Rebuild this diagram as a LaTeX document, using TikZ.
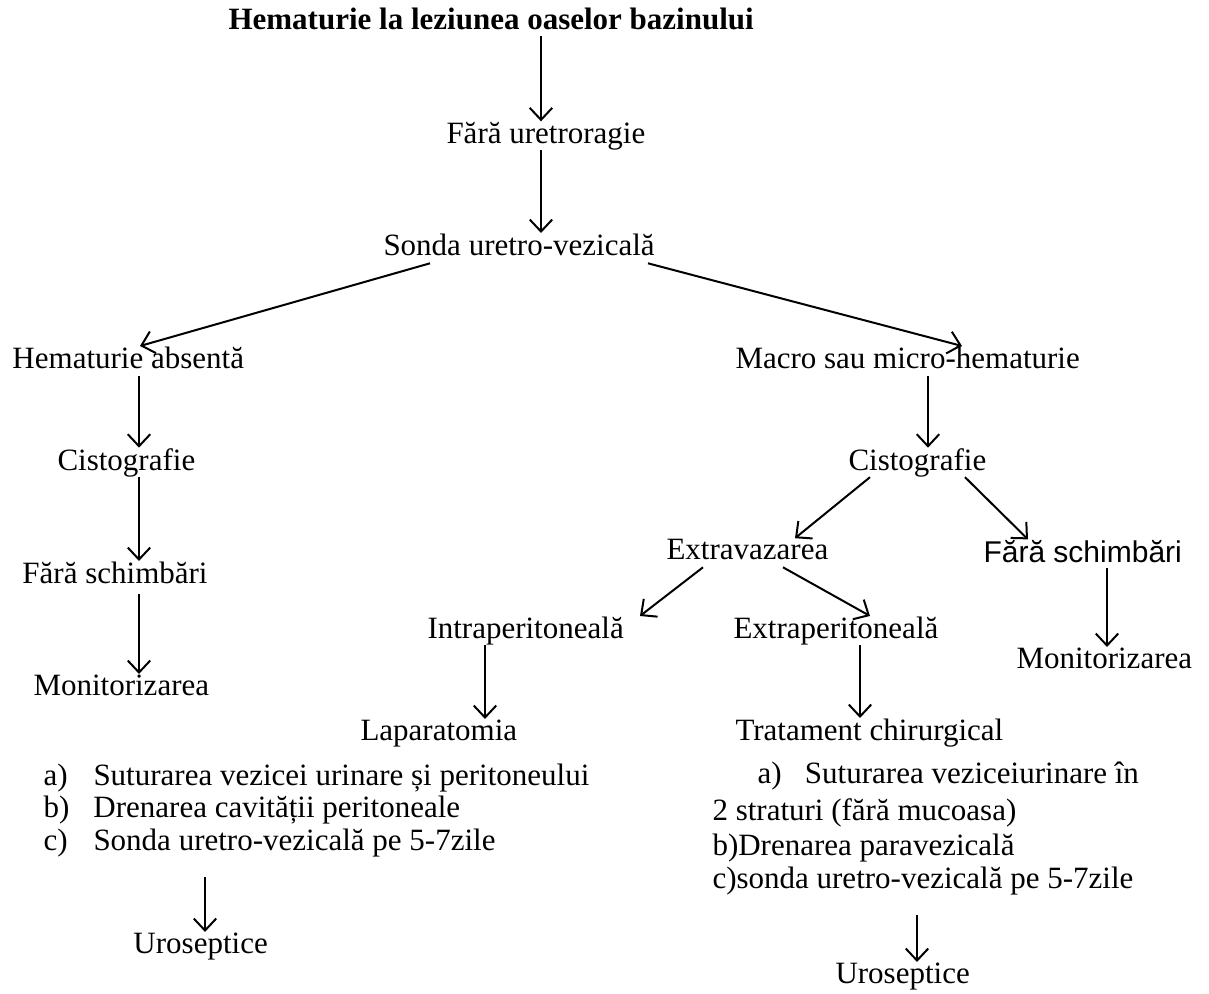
\documentclass[tikz,border=0pt]{standalone}
\usepackage{fontspec}
\setmainfont{Liberation Serif}
\newfontfamily\arialfont{Liberation Sans}
\usetikzlibrary{arrows.meta}
\tikzset{
  txt/.style={inner sep=0pt, anchor=base west, font=\fontsize{12.4}{14}\selectfont},
  sanstxt/.style={inner sep=0pt, anchor=base west, font=\arialfont\fontsize{12}{14}\selectfont},
  arr/.style={line width=0.8pt, -{Straight Barb[length=4.8pt,width=9pt,line width=0.8pt]}}
}
\begin{document}
\begin{tikzpicture}[x=0.4pt,y=-0.4pt]
\path[use as bounding box] (0,0) rectangle (1209,994);
% nodes
\node[txt,font=\bfseries\fontsize{12.4}{14}\selectfont] (title) at (228,29) {Hematurie la leziunea oaselor bazinului};
\node[txt] (fu) at (446,143) {Fără uretroragie};
\node[txt] (sonda) at (383,255) {Sonda uretro-vezicală};
\node[txt] (ha) at (12,368) {Hematurie absentă};
\node[txt] (macro) at (735,368) {Macro sau micro-hematurie};
\node[txt] (cisL) at (57,470) {Cistografie};
\node[txt] (fsL) at (22,583) {Fără schimbări};
\node[txt] (monL) at (33,695) {Monitorizarea};
\node[txt] (cisR) at (848,470) {Cistografie};
\node[txt] (extrav) at (666,559) {Extravazarea};
\node[sanstxt] (fsR) at (983,562) {Fără schimbări};
\node[txt] (monR) at (1016,668) {Monitorizarea};
\node[txt] (intra) at (427,638) {Intraperitoneală};
\node[txt] (extra) at (733,638) {Extraperitoneală};
\node[txt] (lapa) at (360,740) {Laparatomia};
\node[txt] (trat) at (735,740) {Tratament chirurgical};
% left list
\node[txt] (la) at (43,785) {\makebox[20pt][l]{a)}Suturarea vezicei urinare și peritoneului};
\node[txt] (lb) at (43,817) {\makebox[20pt][l]{b)}Drenarea cavității peritoneale};
\node[txt] (lc) at (43,850) {\makebox[20pt][l]{c)}Sonda uretro-vezicală pe 5-7zile};
\node[txt] (luro) at (133,953) {Uroseptice};
% right list
\node[txt] (ra) at (757,783) {\makebox[19pt][l]{a)}Suturarea veziceiurinare în};
\node[txt] (ra2) at (712,820) {2 straturi (fără mucoasa)};
\node[txt] (rb) at (712,855) {b)Drenarea paravezicală};
\node[txt] (rc) at (712,888) {c)sonda uretro-vezicală pe 5-7zile};
\node[txt] (ruro) at (835,983) {Uroseptice};
% connectors
\draw[arr] ([yshift=-2.5pt]title.south -| 541,0) -- (fu.north -| 541,0);
\draw[arr] (fu.south -| 541,0) -- (sonda.north -| 541,0);
\draw[arr] ([yshift=-3pt]sonda.south -| 430,0) -- (ha.north -| 140,0);
\draw[arr] ([yshift=-3pt]sonda.south -| 648,0) -- (macro.north -| 962,0);
\draw[arr] ([yshift=-3pt]ha.south -| 139,0) -- (cisL.north -| 139,0);
\draw[arr] (cisL.south -| 139,0) -- (fsL.north -| 139,0);
\draw[arr] ([yshift=-4pt]fsL.south -| 139,0) -- (monL.north -| 139,0);
\draw[arr] ([yshift=-3pt]macro.south -| 928,0) -- (cisR.north -| 928,0);
\draw[arr] (cisR.south -| 870,0) -- (extrav.north -| 795,0);
\draw[arr] (cisR.south -| 965,0) -- (fsR.north -| 1028,0);
\draw[arr] ([yshift=-2pt]fsR.south -| 1107,0) -- (monR.north -| 1107,0);
\draw[arr] ([yshift=-3pt]extrav.south -| 703,0) -- (intra.north -| 640,0);
\draw[arr] ([yshift=-3pt]extrav.south -| 783,0) -- (extra.north -| 870,0);
\draw[arr] (intra.south -| 485,0) -- (lapa.north -| 485,0);
\draw[arr] (extra.south -| 860,0) -- (trat.north -| 860,0);
\draw[arr] ([yshift=-8pt]lc.south -| 205,0) -- (luro.north -| 205,0);
\draw[arr] ([yshift=-8pt]rc.south -| 917,0) -- (ruro.north -| 917,0);
\end{tikzpicture}
\end{document}
